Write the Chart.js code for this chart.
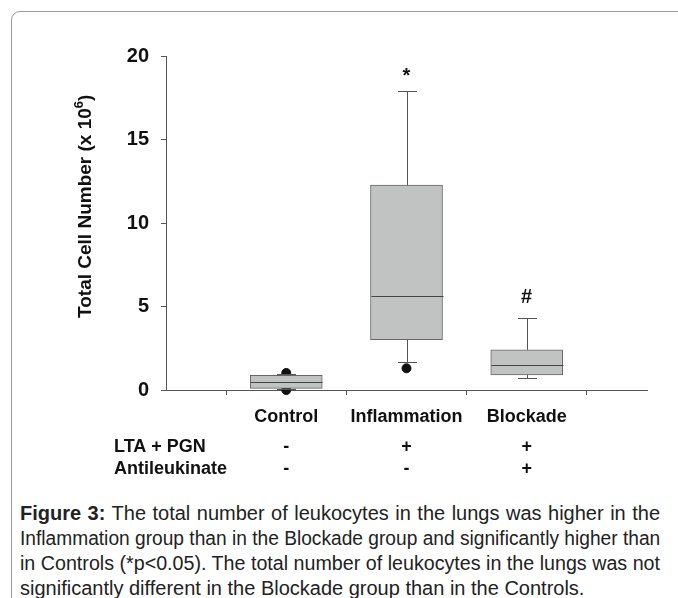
<!DOCTYPE html>
<html>
<head>
<meta charset="utf-8">
<script src="https://cdn.jsdelivr.net/npm/chart.js@4.4.1/dist/chart.umd.min.js"></script>
<style>
  html, body { margin: 0; padding: 0; background: #fff; }
  body { width: 678px; height: 598px; position: relative; overflow: hidden; }
  .frame { position: absolute; left: 11px; top: 11px; width: 720px; height: 700px;
           border: 1px solid #9a9a9a; border-radius: 9px; }
  #chart { position: absolute; left: 0; top: 0; }
  .caption { position: absolute; left: 20px; top: 501px; width: 640px;
             font-family: "Liberation Sans", Arial, sans-serif; font-size: 20px;
             line-height: 25px; color: #222; }
  .caption div { width: 640px; white-space: nowrap; text-align: justify;
                 text-align-last: justify; transform-origin: 0 0; }
  .caption div.last { text-align-last: left; }
</style>
</head>
<body>
<div class="frame"></div>
<canvas id="chart" width="678" height="490"></canvas>
<div class="caption" id="caption">
  <div><b>Figure 3:</b> The total number of leukocytes in the lungs was higher in the</div>
  <div>Inflammation group than in the Blockade group and significantly higher than</div>
  <div>in Controls (*p&lt;0.05). The total number of leukocytes in the lungs was not</div>
  <div class="last">significantly different in the Blockade group than in the Controls.</div>
</div>
<script>
// Groups and box-plot values (x 10^6 cells)
const categories = ['Control', 'Inflammation', 'Blockade'];
const q1 = [0.10, 3.02, 0.90];
const q3 = [0.88, 12.27, 2.40];
const medians = [0.46, 5.64, 1.50];
const whiskerLow = [0.05, 1.66, 0.70];
const whiskerHigh = [0.95, 17.88, 4.30];
// outliers: [group index, value]
const outliers = [[0, 1.02], [0, 0.0], [1, 1.30]];
const markers = ['', '*', '#'];
const yTicks = [0, 5, 10, 15, 20];

// treatment table under the axis
const ltaPgn = ['-', '+', '+'];
const antileukinate = ['-', '-', '+'];

const FONT = '"Liberation Sans", Arial, sans-serif';

// squeeze any caption line that is wider than the column
document.querySelectorAll('#caption div').forEach(d => {
  const w = d.scrollWidth;
  if (w > 640) {
    d.style.width = w + 'px';
    d.style.transform = `scaleX(${640 / w})`;
  }
});

const boxExtras = {
  id: 'boxExtras',
  afterDatasetsDraw(chart) {
    const ctx = chart.ctx;
    const x = chart.scales.x, y = chart.scales.y;
    const bars = chart.getDatasetMeta(0).data;
    ctx.save();
    ctx.strokeStyle = '#555';
    ctx.lineWidth = 1;
    const seg = (x1, y1, x2, y2) => {
      ctx.beginPath(); ctx.moveTo(x1, y1); ctx.lineTo(x2, y2); ctx.stroke();
    };
    categories.forEach((c, i) => {
      const cx = Math.round(x.getPixelForValue(i + 1)) + 0.5;
      const half = bars[i].width / 2;
      const yq1 = y.getPixelForValue(q1[i]), yq3 = y.getPixelForValue(q3[i]);
      const ylo = Math.round(y.getPixelForValue(whiskerLow[i])) + 0.5;
      const yhi = Math.round(y.getPixelForValue(whiskerHigh[i])) + 0.5;
      seg(cx, yq3, cx, yhi);
      seg(cx, yq1, cx, ylo);
      seg(cx - 9.5, yhi, cx + 9.5, yhi);
      seg(cx - 9.5, ylo, cx + 9.5, ylo);
      const ym = Math.round(y.getPixelForValue(medians[i])) + 0.5;
      ctx.strokeStyle = '#444';
      seg(cx - half, ym, cx + half, ym);
      ctx.strokeStyle = '#555';

      if (markers[i]) {
        ctx.font = 'bold 20px ' + FONT;
        ctx.fillStyle = '#111';
        ctx.textAlign = 'center';
        ctx.textBaseline = 'alphabetic';
        const m = ctx.measureText(markers[i]);
        ctx.fillText(markers[i], cx - 1, yhi - 16 - m.actualBoundingBoxDescent);
      }
    });

    // y axis title with superscript
    ctx.font = 'bold 19px ' + FONT;
    const main = 'Total Cell Number (x 10';
    const wMain = ctx.measureText(main).width;
    ctx.font = 'bold 13px ' + FONT;
    const wSup = ctx.measureText('6').width;
    ctx.font = 'bold 19px ' + FONT;
    const wEnd = ctx.measureText(')').width;
    const total = wMain + wSup + wEnd;
    const midY = chart.chartArea.top + (chart.chartArea.bottom - chart.chartArea.top) * 0.45;
    ctx.translate(85, midY + total / 2);
    ctx.rotate(-Math.PI / 2);
    ctx.fillStyle = '#111';
    ctx.textAlign = 'left';
    ctx.textBaseline = 'middle';
    ctx.fillText(main, 0, 1);
    ctx.font = 'bold 13px ' + FONT;
    ctx.fillText('6', wMain, -6);
    ctx.font = 'bold 19px ' + FONT;
    ctx.fillText(')', wMain + wSup, 1);
    ctx.setTransform(1, 0, 0, 1, 0, 0);

    // treatment rows
    ctx.font = 'bold 18px ' + FONT;
    ctx.fillStyle = '#111';
    ctx.textBaseline = 'middle';
    [['LTA + PGN', ltaPgn, 447], ['Antileukinate', antileukinate, 469]].forEach(([label, vals, ry]) => {
      ctx.textAlign = 'left';
      ctx.fillText(label, 114, ry);
      ctx.textAlign = 'center';
      vals.forEach((v, i) => ctx.fillText(v, x.getPixelForValue(i + 1), ry));
    });
    ctx.restore();
  }
};

new Chart(document.getElementById('chart'), {
  type: 'bar',
  data: {
    datasets: [
      {
        label: 'box',
        data: categories.map((c, i) => ({ x: i + 1, y: [q1[i], q3[i]] })),
        backgroundColor: '#c1c3c3',
        borderColor: '#666',
        borderWidth: 1,
        borderSkipped: false,
        barThickness: 72
      },
      {
        type: 'scatter',
        label: 'outliers',
        data: outliers.map(o => ({ x: o[0] + 1, y: o[1] })),
        backgroundColor: '#111',
        borderColor: '#111',
        pointRadius: 4.5,
        clip: false
      }
    ]
  },
  options: {
    responsive: false,
    animation: false,
    layout: { padding: { left: 0, top: 56, right: 31, bottom: 0 } },
    plugins: { legend: { display: false }, tooltip: { enabled: false } },
    scales: {
      x: {
        type: 'linear',
        min: 0,
        max: categories.length + 1,
        offset: false,
        afterBuildTicks: s => { s.ticks = [0, 1, 2, 3, 4].map(v => ({ value: v })); },
        afterFit: s => { s.height = 100; },
        grid: { drawOnChartArea: false, drawTicks: true, tickLength: 5, color: '#555' },
        border: { color: '#555' },
        ticks: {
          callback: v => categories[v - 1] || '',
          color: '#111',
          padding: 11,
          maxRotation: 0,
          autoSkip: false,
          font: { family: FONT, size: 18, weight: 'bold' }
        }
      },
      y: {
        min: 0,
        max: 20,
        afterBuildTicks: s => { s.ticks = yTicks.map(v => ({ value: v })); },
        afterFit: s => { s.width = 166; },
        grid: { drawOnChartArea: false, drawTicks: true, tickLength: 5, color: '#555' },
        border: { color: '#555' },
        ticks: {
          color: '#111',
          padding: 12,
          font: { family: FONT, size: 20, weight: 'bold' }
        }
      }
    }
  },
  plugins: [boxExtras]
});
</script>
</body>
</html>
